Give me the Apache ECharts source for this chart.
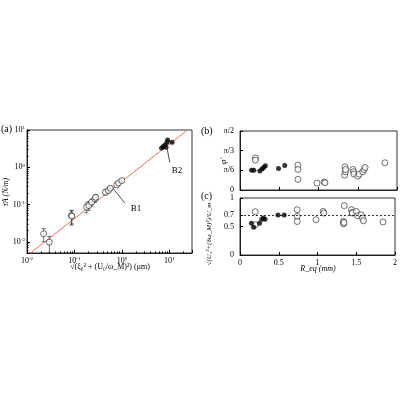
<!DOCTYPE html>
<html><head><meta charset="utf-8">
<script src="https://cdn.jsdelivr.net/npm/echarts@6/dist/echarts.min.js"></script>
<style>html,body{margin:0;background:#fff}#c{width:400px;height:400px}</style>
</head><body><div id="c"></div>
<script>
// Panel (a)
const aOpenX = [0.0224,0.0296,0.086,0.088,0.18,0.20,0.23,0.27,0.28,0.45,0.52,0.57,0.78,0.85,1.0];
const aOpenY = [0.0164,0.0098,0.051,0.049,0.085,0.094,0.116,0.142,0.157,0.214,0.237,0.274,0.336,0.38,0.44];
const aErrLo = [0.0100,0.0050,0.028,0.030,0.060,0.070,0.090,0.115,0.130,0.180,0.205,0.240,0.300,0.345,0.400];
const aErrHi = [0.0225,0.0140,0.070,0.068,0.110,0.120,0.140,0.170,0.185,0.250,0.270,0.305,0.372,0.415,0.480];
const aFillX = [6.85,7.44,8.1,8.5,8.9,9.2,11.4];
const aFillY = [3.3,3.58,3.96,3.43,4.67,5.4,4.67];
const fitLine = [[0.0114,0.0048],[24,10]];
// Panels (b),(c)
const fillR = [0.147,0.176,0.252,0.281,0.302,0.323,0.491,0.570];
const fillPhi = [30.3,30.3,28.8,31.9,34.4,36.9,32.9,37.4];
const fillU = [0.559,0.488,0.559,0.629,0.647,0.629,0.70,0.70];
const openR = [0.197,0.197,0.738,0.738,0.738,0.981,1.073,1.082,1.333,1.337,1.342,1.346,1.438,1.447,1.451,1.501,1.518,1.564,1.581,1.593,1.845];
const openPhi = [49.0,45.5,37.9,31.3,16.2,10.6,12.1,11.1,22.8,35.4,27.8,31.3,31.3,27.8,24.3,21.2,24.3,27.8,31.3,34.4,41.5];
const openU = [0.759,0.53,0.794,0.676,0.588,0.618,0.765,0.735,0.588,0.547,0.571,0.865,0.794,0.747,0.735,0.765,0.688,0.706,0.647,0.60,0.58];
const phiTicks = [0,30,60,90], phiLabels = ['0','π/6','π/3','π/2'];
const uTicks = [0,0.5,0.7,1];

const F = 'Liberation Serif';
const txt = {fontFamily:F,fontSize:8,color:'#000'};
function zip(a,b){return a.map((v,i)=>[v,b[i]]);}
const pow = {'0.01':'-2','0.1':'-1','1':'0','10':'1'};
function logFmt(v){const k=pow[String(+v.toPrecision(3))];return k===undefined?'':'10{s|'+k+'}';}
const rich = {s:{fontFamily:F,fontSize:5,verticalAlign:'top',padding:[0,0,4,0]}};
const boxAxis = {axisLine:{lineStyle:{color:'#000',width:0.8}},axisTick:{inside:true,length:3,lineStyle:{color:'#000'}},splitLine:{show:false}};
const grids = [
 {left:27,top:130,width:165,height:123,show:true,borderColor:'#000',borderWidth:0.8},
 {left:240,top:131,width:157,height:59,show:true,borderColor:'#000',borderWidth:0.8},
 {left:240,top:198,width:157,height:57,show:true,borderColor:'#000',borderWidth:0.8}
];
const opt = {
 animation:false,
 grid:grids,
 xAxis:[
  Object.assign({type:'log',gridIndex:0,min:0.01,max:30,axisLabel:Object.assign({},txt,{formatter:logFmt,rich:rich,margin:3}),minorTick:{show:true,splitNumber:9,length:1.5}},boxAxis),
  Object.assign({type:'value',gridIndex:1,min:0,max:2,interval:0.5,axisLabel:{show:false}},boxAxis),
  Object.assign({type:'value',gridIndex:2,min:0,max:2,interval:0.5,axisLabel:Object.assign({},txt,{margin:4})},boxAxis)
 ],
 yAxis:[
  Object.assign({type:'log',gridIndex:0,min:0.005,max:10,axisLabel:Object.assign({},txt,{formatter:logFmt,rich:rich,margin:2}),minorTick:{show:true,splitNumber:9,length:1.5}},boxAxis),
  Object.assign({type:'value',gridIndex:1,min:0,max:90},boxAxis,{axisTick:{inside:true,length:3,customValues:phiTicks},axisLabel:Object.assign({},txt,{customValues:phiTicks,formatter:v=>phiLabels[phiTicks.indexOf(v)],margin:6})}),
  Object.assign({type:'value',gridIndex:2,min:0,max:1},boxAxis,{axisTick:{inside:true,length:3,customValues:uTicks},axisLabel:Object.assign({},txt,{customValues:uTicks,margin:6})})
 ],
 graphic:[
  {type:'text',left:1,top:124,style:{text:'(a)',font:'10px '+F}},
  {type:'text',left:201,top:126,style:{text:'(b)',font:'10px '+F}},
  {type:'text',left:201,top:191,style:{text:'(c)',font:'10px '+F}},
  {type:'text',x:2,y:192,rotation:Math.PI/2,style:{text:'τ̄A (N/m)',font:'italic 8px '+F,align:'center',verticalAlign:'top'}},
  {type:'text',x:110,y:263,style:{text:'√(ξ₀² + (U₀/ω_M)²) (μm)',font:'8px '+F,align:'center'}},
  {type:'text',x:219,y:161,rotation:Math.PI/2,style:{text:'φ′',font:'italic 9px '+F,align:'center',verticalAlign:'top'}},
  {type:'text',x:206,y:234,rotation:Math.PI/2,style:{text:'√(U₀²+(δω_M)²)/U_m',font:'italic 7px '+F,align:'center',verticalAlign:'top'}},
  {type:'text',x:318,y:265,style:{text:'R_eq (mm)',font:'italic 8px '+F,align:'center'}}
 ],
 series:[
  {type:'line',xAxisIndex:0,yAxisIndex:0,data:fitLine,symbol:'none',lineStyle:{color:'#e8705a',width:1},z:1},
  {type:'custom',xAxisIndex:0,yAxisIndex:0,data:aOpenX.map((x,i)=>[x,aErrLo[i],aErrHi[i]]),
   renderItem:(p,api)=>{const lo=api.coord([api.value(0),api.value(1)]),hi=api.coord([api.value(0),api.value(2)]);
    const s={stroke:'#333',lineWidth:0.7};
    return {type:'group',children:[{type:'line',shape:{x1:lo[0],y1:lo[1],x2:hi[0],y2:hi[1]},style:s},
     {type:'line',shape:{x1:lo[0]-2,y1:lo[1],x2:lo[0]+2,y2:lo[1]},style:s},
     {type:'line',shape:{x1:hi[0]-2,y1:hi[1],x2:hi[0]+2,y2:hi[1]},style:s}]};},z:2},
  {type:'scatter',xAxisIndex:0,yAxisIndex:0,data:zip(aOpenX,aOpenY),symbol:'circle',symbolSize:6,itemStyle:{color:'#fff',borderColor:'#000',borderWidth:0.7},z:3},
  {type:'scatter',xAxisIndex:0,yAxisIndex:0,data:zip(aFillX,aFillY),symbolSize:5,itemStyle:{color:'#000'},z:3},
  {type:'line',xAxisIndex:0,yAxisIndex:0,data:[[0.65,0.27],[1.15,0.11]],symbol:'none',showSymbol:false,lineStyle:{color:'#000',width:0.7},
   endLabel:{show:true,formatter:'B1',fontFamily:F,fontSize:9,color:'#000',offset:[-2,6]},z:4},
  {type:'line',xAxisIndex:0,yAxisIndex:0,data:[[9.0,3.1],[10.2,1.35]],symbol:'none',showSymbol:false,lineStyle:{color:'#000',width:0.7},
   endLabel:{show:true,formatter:'B2',fontFamily:F,fontSize:9,color:'#000',offset:[-6,8]},z:4},
  {type:'scatter',xAxisIndex:1,yAxisIndex:1,data:zip(openR,openPhi),symbolSize:6,itemStyle:{color:'#fff',borderColor:'#000',borderWidth:0.7}},
  {type:'scatter',xAxisIndex:1,yAxisIndex:1,data:zip(fillR,fillPhi),symbolSize:5,itemStyle:{color:'#000'}},
  {type:'scatter',xAxisIndex:2,yAxisIndex:2,data:zip(openR,openU),symbolSize:6,itemStyle:{color:'#fff',borderColor:'#000',borderWidth:0.7},
   markLine:{silent:true,symbol:'none',label:{show:false},lineStyle:{color:'#000',type:[2,2],width:0.8},data:[{yAxis:0.7}]}},
  {type:'scatter',xAxisIndex:2,yAxisIndex:2,data:zip(fillR,fillU),symbolSize:5,itemStyle:{color:'#000'}}
 ]
};
echarts.init(document.getElementById('c')).setOption(opt);
</script></body></html>
